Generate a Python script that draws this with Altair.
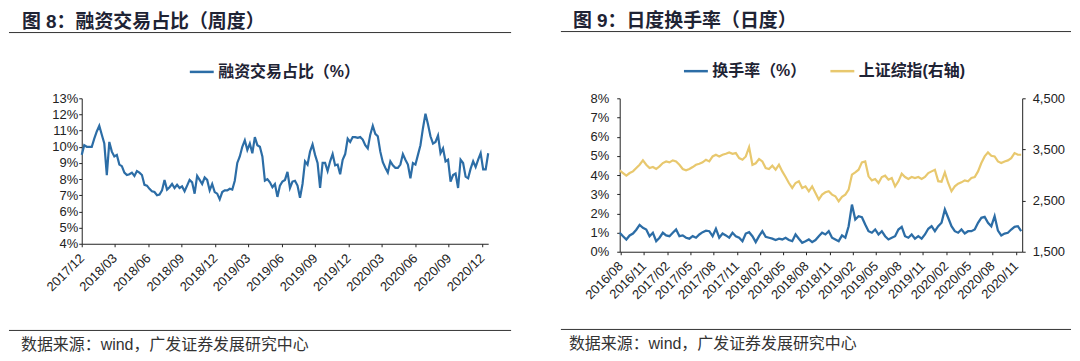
import altair as alt
import pandas as pd

FONT_CJK = "Noto Sans CJK SC"
FONT_MIX = "Liberation Sans, Noto Sans CJK SC"
FONT_NUM = "Liberation Sans"
BLUE = "#2C6DA6"
GOLD = "#E8C86E"
INK = "#1E2334"
AXIS = "#222222"

# ---------------- data: figure 8 (weekly margin-trading share, %) ----------------
margin_start, margin_end = "2017-12-01", "2020-12-18"
margin_share = [
    9.5, 10.1, 10.0, 10.0, 10.0, 10.5, 10.95, 11.3, 10.75, 10.2,
    8.25, 10.3, 9.7, 9.4, 9.5, 8.9, 8.8, 8.4, 8.25, 8.3,
    8.4, 8.2, 8.5, 8.4, 8.25, 7.65, 7.6, 7.4, 7.25, 7.2,
    7.0, 7.05, 7.3, 7.95, 7.35, 7.5, 7.7, 7.45, 7.65, 7.45,
    7.55, 7.25, 7.6, 7.95, 7.8, 7.1, 8.2, 7.95, 7.7, 8.1,
    7.95, 7.3, 7.7, 7.2, 7.1, 6.75, 7.2, 7.3, 7.3, 7.4,
    7.35, 7.9, 9.0, 9.4, 10.0, 10.4, 9.8, 10.2, 9.6, 10.6,
    10.1, 10.0, 9.4, 7.9, 8.0, 7.8, 7.5, 7.7, 6.9, 7.6,
    7.85, 7.95, 8.45, 7.45, 7.85, 7.9, 7.6, 6.85, 7.7, 9.1,
    8.9, 9.7, 10.15, 9.5, 9.0, 7.45, 9.0, 9.0, 8.5, 9.1,
    9.55, 8.85, 8.9, 8.3, 9.2, 9.55, 10.5, 10.3, 10.6, 10.6,
    10.55, 10.6, 10.45, 10.1, 9.9, 10.75, 11.3, 10.8, 10.65, 9.7,
    9.05, 8.7, 8.4, 9.1, 8.85, 8.7, 8.7, 8.9, 9.55, 9.2,
    8.9, 8.05, 9.0, 8.9, 9.5, 10.1, 11.15, 12.05, 11.4, 10.65,
    10.2, 10.3, 10.7, 9.6, 9.9, 9.1, 9.2, 7.85, 8.25, 8.35,
    7.45, 9.2, 9.0, 8.15, 8.05, 8.65, 9.1, 8.75, 9.2, 9.6,
    8.6, 8.6, 9.6,
]
margin_series = "融资交易占比（%）"

# ---------------- data: figure 9 (daily turnover % and SSE composite) ----------------
turn_start, turn_end = "2016-07-29", "2020-11-22"
turnover = [
    0.99, 0.81, 0.64, 0.85, 0.95, 1.15, 1.40, 1.25, 1.16, 0.81,
    0.99, 0.55, 0.73, 0.99, 0.85, 0.81, 0.99, 1.16, 0.81, 0.85,
    0.73, 0.68, 0.81, 0.73, 0.90, 1.02, 1.10, 1.07, 0.81, 1.20,
    0.73, 0.95, 0.85, 0.73, 0.99, 0.81, 0.73, 0.55, 0.95, 1.02,
    0.81, 0.50, 0.81, 1.07, 0.78, 0.73, 0.68, 0.61, 0.68, 0.64,
    0.73, 0.61, 0.55, 0.90, 0.68, 0.47, 0.55, 0.64, 0.50, 0.61,
    0.81,
    0.99, 0.90, 1.07, 0.73, 0.64, 0.55, 0.85, 0.73, 1.33, 2.46,
    1.68, 1.85, 1.80, 1.42, 1.07, 0.99, 1.16, 0.90, 1.07, 0.81,
    0.64, 0.73, 0.81, 1.16, 1.30, 0.81, 0.73, 0.90, 0.68, 0.81,
    0.68, 0.90, 1.20, 1.33, 1.07, 1.33, 1.51, 2.20, 1.77, 1.33,
    1.07, 0.99, 1.16, 0.95, 1.07, 1.07, 1.16, 1.51, 1.77, 1.82,
    1.51, 1.33, 1.85, 1.10, 0.85, 0.95, 0.99, 1.16, 1.30, 1.33,
    1.07,
]
sse_index = [
    3091, 3039, 2987, 3039, 3071, 3136, 3201, 3286, 3201, 3136,
    3156, 3117, 3169, 3234, 3266, 3247, 3286, 3266, 3201, 3117,
    3091, 3117, 3156, 3201, 3221, 3247, 3299, 3266, 3364, 3396,
    3364, 3396, 3416, 3442, 3416, 3429, 3331, 3299, 3364, 3546,
    3200, 3230, 3312, 3266, 3136, 3117, 3182, 3104, 3201, 3071,
    2961, 2844, 2747, 2844, 2877, 2747, 2779, 2682, 2779, 2649,
    2520,
    2617, 2662, 2682, 2617, 2585, 2487, 2572, 2617, 2714, 3007,
    3052, 3104, 3247, 3266, 2974, 2896, 2922, 2844, 2961, 2987,
    2909, 2941, 2779, 2877, 3026, 2961, 2922, 2961, 2941, 2961,
    2922, 2961, 3039, 3071, 3104, 2880, 2870, 3052, 2844, 2682,
    2779, 2831, 2857, 2896, 2877, 2941, 2961, 3071, 3234, 3364,
    3442, 3377, 3364, 3266, 3234, 3266, 3286, 3331, 3429, 3396,
    3396,
]
turn_series = ["换手率（%）", "上证综指(右轴)"]

# ---------------- text ----------------
title_left = "图 8：融资交易占比（周度）"
title_right = "图 9：日度换手率（日度）"
source_text = "数据来源：wind，广发证券发展研究中心"


def dt(y, m, d=1):
    return alt.DateTime(year=y, month=m, date=d)


left_ticks = [dt(2017, 12)] + [dt(y, m) for y in (2018, 2019, 2020) for m in (3, 6, 9, 12)]
right_ticks = [dt(2016, 8), dt(2016, 11)] + [dt(y, m) for y in (2017, 2018, 2019, 2020) for m in (2, 5, 8, 11)]
left_pct_ticks = list(range(4, 14))
right_pct_ticks = list(range(0, 9))
sse_ticks = [1500, 2500, 3500, 4500]

axis_style = dict(
    domainColor=AXIS, domainWidth=1, tickColor=AXIS, tickSize=3,
    labelFont=FONT_NUM, labelFontSize=13, labelColor=AXIS, grid=False, title=None,
)
xaxis_style = dict(axis_style, format="%Y/%m", labelAngle=-45, labelAlign="right",
                   labelBaseline="middle", labelPadding=9, labelOverlap=False, labelFlush=False)


def decor(rule_x1, rule_x2, top_y, bottom_y, title, title_x, edge_y, src_x, src_y):
    one = pd.DataFrame({"t": [title]})
    src = pd.DataFrame({"t": [source_text]})
    edge = alt.Chart(one).mark_rule(opacity=0).encode(
        x=alt.value(rule_x1 + 20), x2=alt.value(rule_x1 + 40), y=alt.value(edge_y))
    rule_top = alt.Chart(one).mark_rule(color="#333333", strokeWidth=1).encode(
        x=alt.value(rule_x1), x2=alt.value(rule_x2), y=alt.value(top_y))
    rule_bot = alt.Chart(one).mark_rule(color="#333333", strokeWidth=1).encode(
        x=alt.value(rule_x1), x2=alt.value(rule_x2), y=alt.value(bottom_y))
    ttl = alt.Chart(one).mark_text(
        align="left", baseline="alphabetic", font=FONT_MIX, fontSize=19, fontWeight="bold", color=INK
    ).encode(x=alt.value(title_x), y=alt.value(edge_y + 18), text="t:N")
    srct = alt.Chart(src).mark_text(
        align="left", baseline="middle", font=FONT_MIX, fontSize=16, color="#333333"
    ).encode(x=alt.value(src_x), y=alt.value(src_y), text="t:N")
    return [edge, rule_top, rule_bot, ttl, srct]


legend_style = dict(
    orient="none", direction="horizontal", title=None, symbolType="stroke",
    symbolSize=576, symbolStrokeWidth=2.5, labelFont=FONT_MIX, labelFontSize=16,
    labelFontWeight="bold", labelColor=INK, columnPadding=18, labelOffset=3,
)

# ---------------- left panel ----------------
left_df = pd.DataFrame({
    "date": pd.date_range(margin_start, margin_end, periods=len(margin_share)),
    "value": margin_share,
    "series": margin_series,
})
left_line = alt.Chart(left_df).mark_line(strokeWidth=2.2).encode(
    x=alt.X("date:T", scale=alt.Scale(domain=[dt(2017, 12, 1), dt(2020, 12, 18)]),
            axis=alt.Axis(values=left_ticks, **xaxis_style)),
    y=alt.Y("value:Q", scale=alt.Scale(domain=[4, 13], nice=False),
            axis=alt.Axis(values=left_pct_ticks, labelExpr="datum.value + '%'",
                          labelPadding=1, **axis_style)),
    color=alt.Color("series:N", scale=alt.Scale(domain=[margin_series], range=[BLUE]),
                    legend=alt.Legend(legendX=107, legendY=-40, **legend_style)),
)
left = alt.layer(
    left_line,
    *decor(-73, 431, -66, 233, title_left, -60, -89, -61, 248),
).properties(width=408, height=146)

# ---------------- right panel ----------------
right_df = pd.DataFrame({
    "date": pd.date_range(turn_start, turn_end, periods=len(turnover)),
    "turnover": turnover,
    "sse": sse_index,
})
rx = alt.X("date:T", scale=alt.Scale(domain=[dt(2016, 7, 29), dt(2020, 11, 26)]),
           axis=alt.Axis(values=right_ticks, **xaxis_style))
rcolor_scale = alt.Scale(domain=turn_series, range=[BLUE, GOLD])
rlegend = alt.Legend(legendX=63, legendY=-41, **legend_style)

gold = alt.Chart(right_df).transform_calculate(series="'上证综指(右轴)'").mark_line(strokeWidth=2.2).encode(
    x=rx,
    y=alt.Y("sse:Q", scale=alt.Scale(domain=[1500, 4500], nice=False),
            axis=alt.Axis(orient="right", values=sse_ticks, format=",.0f", labelPadding=7, **axis_style)),
    color=alt.Color("series:N", scale=rcolor_scale, legend=rlegend),
)
blue = alt.Chart(right_df).transform_calculate(series="'换手率（%）'").mark_line(strokeWidth=2.3).encode(
    x=rx,
    y=alt.Y("turnover:Q", scale=alt.Scale(domain=[0, 8], nice=False),
            axis=alt.Axis(orient="left", values=right_pct_ticks, labelExpr="datum.value + '%'",
                          labelPadding=8, **axis_style)),
    color=alt.Color("series:N", scale=rcolor_scale, legend=rlegend),
)
right = alt.layer(
    gold, blue,
    *decor(-59, 453, -67, 232, title_right, -47, -90, -51, 247),
).resolve_scale(y="independent").properties(width=404, height=154)

chart = alt.hconcat(left, right, spacing=48).resolve_scale(color="independent").properties(
    padding=0, background="white"
).configure_view(stroke=None)

chart.save("out.html", embed_options={"renderer": "svg", "actions": False})
